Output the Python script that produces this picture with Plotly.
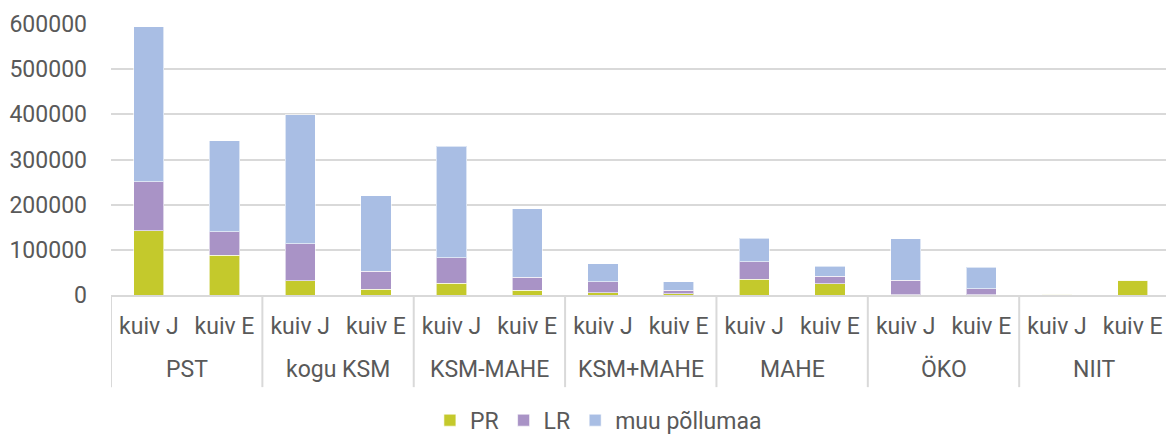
import plotly.graph_objects as go

groups = ["PST", "kogu KSM", "KSM-MAHE", "KSM+MAHE", "MAHE", "ÖKO", "NIIT"]
subs = ["kuiv J", "kuiv E"]

pr = [142000, 88000, 32000, 13000, 26000, 10500, 5000, 3000, 35000, 25000, 1000, 500, 2000, 33000]
lr = [109000, 52000, 82000, 40000, 56000, 28500, 24000, 8000, 38500, 16000, 32000, 13000, 0, 0]
muu = [343000, 202000, 285000, 167000, 247000, 152000, 40000, 18000, 52000, 23000, 92000, 47500, 0, 0]

series_names = ["PR", "LR", "muu põllumaa"]
colors = ["#c4c92c", "#a993c6", "#a9bee4"]

x_inner = [s for _ in groups for s in subs]
xpos = list(range(len(x_inner)))
nsub = len(subs)

font_family = "Roboto"
txt_col = "#595959"
line_col = "#d9d9d9"

fig = go.Figure()
for name, vals, col in zip(series_names, [pr, lr, muu], colors):
    fig.add_trace(go.Bar(
        x=xpos, y=vals, name=name,
        marker=dict(color=col, line=dict(color="rgba(255,255,255,0.6)", width=1)),
    ))

# group labels and dividers
for gi, g in enumerate(groups):
    fig.add_annotation(x=gi * nsub + (nsub - 1) / 2, xref="x", y=0, yref="paper",
                       yshift=-74, yanchor="middle", text=g, showarrow=False,
                       font=dict(size=23, color=txt_col, family=font_family))
for gi in range(len(groups) + 1):
    fig.add_shape(type="line", xref="x", yref="paper",
                  x0=gi * nsub - 0.5, x1=gi * nsub - 0.5, y0=0, y1=-0.34,
                  line=dict(color=line_col, width=2))

fig.update_layout(
    barmode="stack",
    bargap=0.6,
    width=1166, height=435,
    margin=dict(l=111, r=0, t=24, b=140),
    paper_bgcolor="white", plot_bgcolor="white",
    font=dict(family=font_family, size=23, color=txt_col),
    showlegend=True,
    legend=dict(orientation="h", x=0.462, xanchor="center", yref="container", y=0.034,
                yanchor="middle", font=dict(size=23, color=txt_col),
                itemwidth=30, traceorder="normal"),
    xaxis=dict(range=[-0.5, 13.44], tickmode="array", tickvals=xpos, ticktext=x_inner,
               showline=True, linecolor=line_col, linewidth=2, automargin=False,
               tickfont=dict(size=23, color=txt_col), showgrid=False, zeroline=False,
               ticks="", ticklabelstandoff=9),
    yaxis=dict(range=[0, 600000], dtick=100000, showgrid=True, gridcolor=line_col,
               gridwidth=1.5, zeroline=False, tickformat="d", automargin=False,
               tickfont=dict(size=23, color=txt_col), ticklabelstandoff=23),
)

fig.write_html("out.html", config={"displayModeBar": False},
               post_script="document.body.style.margin='0';")
